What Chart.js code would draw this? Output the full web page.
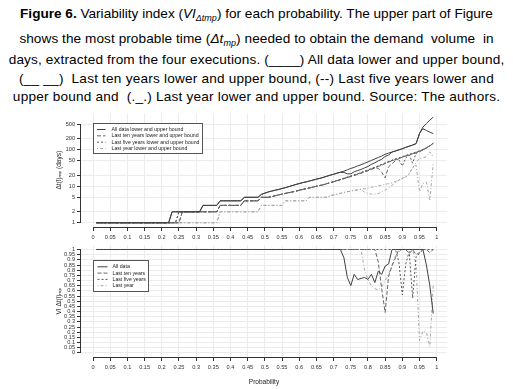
<!DOCTYPE html>
<html>
<head>
<meta charset="utf-8">
<script src="https://cdn.jsdelivr.net/npm/chart.js@4.4.1/dist/chart.umd.min.js"></script>
<style>
body { margin:0; background:#fff; width:513px; height:389px; overflow:hidden; position:relative; font-family:"Liberation Sans", Arial, sans-serif; }
.cap { position:absolute; left:0; width:513px; font-size:13.6px; line-height:15px; white-space:pre; color:#000; text-align:center; }
.cap sub { font-size:9px; line-height:0; vertical-align:-3px; }
canvas { position:absolute; left:0; }
</style>
</head>
<body>
<div class="cap" style="top:6px"><b>Figure 6.</b> Variability index (<i>VI<sub>Δtmp</sub></i>) for each probability. The upper part of Figure</div>
<div class="cap" style="top:31px;letter-spacing:0.07px">shows the most probable time (<i>Δt<sub>mp</sub></i>) needed to obtain the demand  volume  in</div>
<div class="cap" style="top:52px;letter-spacing:0.15px">days, extracted from the four executions. (____) All data lower and upper bound,</div>
<div class="cap" style="top:71px;letter-spacing:0.21px">(__ __)  Last ten years lower and upper bound, (--) Last five years lower and</div>
<div class="cap" style="top:89px;letter-spacing:0.21px">upper bound and  (._.) Last year lower and upper bound. Source: The authors.</div>
<canvas id="topChart" width="513" height="142" style="top:108px"></canvas>
<canvas id="botChart" width="513" height="149" style="top:240px"></canvas>
<script>
// probabilities 0.01 .. 0.99
var probs = [0.01,0.02,0.03,0.04,0.05,0.06,0.07,0.08,0.09,0.1,
0.11,0.12,0.13,0.14,0.15,0.16,0.17,0.18,0.19,0.2,
0.21,0.22,0.23,0.24,0.25,0.26,0.27,0.28,0.29,0.3,
0.31,0.32,0.33,0.34,0.35,0.36,0.37,0.38,0.39,0.4,
0.41,0.42,0.43,0.44,0.45,0.46,0.47,0.48,0.49,0.5,
0.51,0.52,0.53,0.54,0.55,0.56,0.57,0.58,0.59,0.6,
0.61,0.62,0.63,0.64,0.65,0.66,0.67,0.68,0.69,0.7,
0.71,0.72,0.73,0.74,0.75,0.76,0.77,0.78,0.79,0.8,
0.81,0.82,0.83,0.84,0.85,0.86,0.87,0.88,0.89,0.9,
0.91,0.92,0.93,0.94,0.95,0.96,0.97,0.98,0.99];

// most probable time (days), upper part
var allHi = [1,1,1,1,1,1,1,1,1,1, 1,1,1,1,1,1,1,1,1,1, 1,1,2,2,2,2,2,2,2,2, 2,3,3,3,3,3,4,4,4,4,
4,4,4,5,5,5,5,5,6,6.5, 7,7.4,7.8,8.2,8.7,9.2,9.8,10.5,11.2,11.9, 12.6,13.2,14,14.8,15.7,16.5,17.6,18.8,20.2,21.4,
22.9,24.3,26,28.2,30.9,33,36.3,38.9,42.7,46.8, 51.3,56.2,61.7,67.6,75.9,81.3,87,93,100,107, 117,126,135,148,280,420,530,650,790];
var allLo = [1,1,1,1,1,1,1,1,1,1, 1,1,1,1,1,1,1,1,1,1, 1,1,2,2,2,2,2,2,2,2, 2,3,3,3,3,3,4,4,4,4,
4,4,4,5,5,5,5,5,6,6.5, 7,7.4,7.8,8.2,8.7,9.2,9.8,10.5,11.2,11.9, 12.6,13.2,14,14.8,15.7,16.5,17.6,18.8,20.2,21.4,
22.9,24.3,24,22,22,25,27,29,32,35, 40,44,50,55,66,72,87,93,100,107, 117,126,135,148,280,380,340,305,278];
var tenHi = [1,1,1,1,1,1,1,1,1,1, 1,1,1,1,1,1,1,1,1,1, 1,1,1,1,1,2,2,2,2,2, 2,2,2,2,2,2,3,3,3,3,
3,3,3,4,4,4,4,4,5,5, 5,5.2,5.5,5.8,6.1,6.4,6.7,7,7.4,7.8, 8.2,8.6,9,9.5,10,10.5,11,11.8,12.5,13.3,
14.2,15.2,16.3,17.4,18.6,20,21.5,23,25,27, 29.5,32,35,38,42,46,50,54,58,63, 68,73,79,85,92,100,112,130,155];
var tenLo = [1,1,1,1,1,1,1,1,1,1, 1,1,1,1,1,1,1,1,1,1, 1,1,1,1,1,2,2,2,2,2, 2,2,2,2,2,2,3,3,3,3,
3,3,3,4,4,4,4,4,5,5, 5,5.2,5.5,5.8,6.1,6.4,6.7,7,7.4,7.8, 8.2,8.6,9,9.5,10,10.5,11,11.8,12.5,13.3,
14.2,15.2,16.3,17.4,18.6,20,21.5,23,25,27, 29.5,32,31,24,17,34,42,50,58,63, 68,70,79,81,89,100,112,126,155];
var fiveHi = [1,1,1,1,1,1,1,1,1,1, 1,1,1,1,1,1,1,1,1,1, 1,1,1,1,2,2,2,2,2,2, 2,2,2,2,2,2,3,3,3,3,
3,3,3,4,4,4,4,4,5,5, 5,5.2,5.5,5.8,6.1,6.4,6.7,7,7.4,7.8, 8.2,8.6,9,9.5,10,10.5,11,11.8,12.5,13.3,
14.5,15.5,16.6,17.8,19,20.5,22,23.8,25.8,28, 30.5,33,36,39.5,43.5,47.5,51.5,56,60,65, 70,75,81,87,94,102,114,128,150];
var fiveLo = [1,1,1,1,1,1,1,1,1,1, 1,1,1,1,1,1,1,1,1,1, 1,1,1,1,2,2,2,2,2,2, 2,2,2,2,2,2,3,3,3,3,
3,3,3,4,4,4,4,4,5,5, 5,5.2,5.5,5.8,6.1,6.4,6.7,7,7.4,7.8, 8.2,8.6,9,9.5,10,10.5,11,11.8,12.5,13.3,
14.5,15.5,16.6,17.8,19,20.5,22,23.8,25.8,28, 30.5,33,36,39.5,43.5,47.5,51.5,56,53,36, 60,73.5,43,81,90,102,114,128,150];
var lastHi = [1,1,1,1,1,1,1,1,1,1, 1,1,1,1,1,1,1,1,1,1, 1,1,1,1,1,1,1,1,1,1, 1,1,1,1,1,1,2,2,2,2,
2,2,2,2,2,2,2,2,3,3, 3,3,3,3,3,4,4,4,4,4, 4,4,5,5,5,5,5,5,5.5,5.8,
6.1,6.4,6.8,7.1,7.4,7.7,8,8.3,8.6,9, 9.4,9.8,10.3,10.8,11.3,11.8,12.5,13.5,15,16.5, 18,22,32,45,58,60,65,88,64];
var lastLo = [1,1,1,1,1,1,1,1,1,1, 1,1,1,1,1,1,1,1,1,1, 1,1,1,1,1,1,1,1,1,1, 1,1,1,1,1,1,2,2,2,2,
2,2,2,2,2,2,2,2,3,3, 3,3,3,3,3,4,4,4,4,4, 4,4,5,5,5,5,5,5,5.5,5.8,
6.1,6.4,6.8,7.1,7.4,7.7,8,8.3,6.9,6.4, 6.1,6.1,6.3,6.9,7.9,9,10.6,12.7,14.7,16.5, 18,22,32,38,7.1,12,13,4.3,42];

// variability index, lower part
var viAll = [1,1,1,1,1,1,1,1,1,1, 1,1,1,1,1,1,1,1,1,1, 1,1,1,1,1,1,1,1,1,1, 1,1,1,1,1,1,1,1,1,1,
1,1,1,1,1,1,1,1,1,1, 1,1,1,1,1,1,1,1,1,1, 1,1,1,1,1,1,1,1,1,1,
1,1,0.92,0.73,0.65,0.76,0.71,0.72,0.73,0.71, 0.76,0.68,0.79,0.76,0.84,0.86,1,1,1,1, 1,1,1,1,1,1,0.85,0.65,0.38];
var viTen = [1,1,1,1,1,1,1,1,1,1, 1,1,1,1,1,1,1,1,1,1, 1,1,1,1,1,1,1,1,1,1, 1,1,1,1,1,1,1,1,1,1,
1,1,1,1,1,1,1,1,1,1, 1,1,1,1,1,1,1,1,1,1, 1,1,1,1,1,1,1,1,1,1,
1,1,1,1,1,1,1,1,1,1, 1,1,0.88,0.62,0.39,0.74,0.84,0.92,1,1, 1,0.96,1,0.95,0.97,1,1,0.97,1];
var viFive = [1,1,1,1,1,1,1,1,1,1, 1,1,1,1,1,1,1,1,1,1, 1,1,1,1,1,1,1,1,1,1, 1,1,1,1,1,1,1,1,1,1,
1,1,1,1,1,1,1,1,1,1, 1,1,1,1,1,1,1,1,1,1, 1,1,1,1,1,1,1,1,1,1,
1,1,1,1,1,1,1,1,1,1, 1,1,1,1,1,1,1,1,0.88,0.56, 0.86,0.98,0.53,0.93,0.96,1,1,1,1];
var viLast = [1,1,1,1,1,1,1,1,1,1, 1,1,1,1,1,1,1,1,1,1, 1,1,1,1,1,1,1,1,1,1, 1,1,1,1,1,1,1,1,1,1,
1,1,1,1,1,1,1,1,1,1, 1,1,1,1,1,1,1,1,1,1, 1,1,1,1,1,1,1,1,1,1,
1,1,1,1,1,1,1,1,0.8,0.71, 0.65,0.62,0.61,0.64,0.7,0.76,0.85,0.94,0.98,1, 1,1,1,0.85,0.12,0.21,0.2,0.06,0.66];

var xTicks = [0,0.05,0.1,0.15,0.2,0.25,0.3,0.35,0.4,0.45,0.5,0.55,0.6,0.65,0.7,0.75,0.8,0.85,0.9,0.95,1];
var yTicksTop = [1,2,5,10,20,50,100,200,500];
var yTicksBot = [0,0.05,0.1,0.15,0.2,0.25,0.3,0.35,0.4,0.45,0.5,0.55,0.6,0.65,0.7,0.75,0.8,0.85,0.9,0.95,1];
var legendTop = ['All data lower and upper bound','Last ten years lower and upper bound','Last five years lower and upper bound','Last year lower and upper bound'];
var legendBot = ['All data','Last ten years','Last five years','Last year'];

var fam = '"Liberation Sans", "DejaVu Sans", sans-serif';
var stAll = {c:'#404040', d:[]};
var stTen = {c:'#666666', d:[4,2]};
var stFive = {c:'#555555', d:[2,2]};
var stLast = {c:'#a6a6a6', d:[1,2,3,2]};

function ds(label, vals, st) {
  return {
    label: label,
    data: probs.map(function (p, i) { return {x: p, y: vals[i]}; }),
    borderColor: st.c, borderDash: st.d, borderWidth: 1,
    pointRadius: 0, tension: 0, fill: false
  };
}

// R style axis lines: only from first to last tick
var rAxes = {
  id: 'rAxes',
  afterDraw: function (chart) {
    var ctx = chart.ctx, ca = chart.chartArea;
    var sx = chart.scales.x, sy = chart.scales.y;
    var xs = sx.ticks.map(function (t) { return sx.getPixelForValue(t.value); });
    var ys = sy.ticks.map(function (t) { return sy.getPixelForValue(t.value); });
    ctx.save();
    ctx.strokeStyle = '#333'; ctx.lineWidth = 1; ctx.setLineDash([]);
    ctx.beginPath();
    ctx.moveTo(Math.min.apply(null, xs), Math.round(ca.bottom) + 0.5);
    ctx.lineTo(Math.max.apply(null, xs), Math.round(ca.bottom) + 0.5);
    ctx.moveTo(Math.round(ca.left) - 0.5, Math.min.apply(null, ys));
    ctx.lineTo(Math.round(ca.left) - 0.5, Math.max.apply(null, ys));
    ctx.stroke();
    ctx.restore();
  }
};

var rLegend = {
  id: 'rLegend',
  afterDraw: function (chart, args, o) {
    var ctx = chart.ctx, ca = chart.chartArea;
    var x0 = Math.round(ca.left + o.dx) + 0.5, y0 = Math.round(ca.top + o.dy) + 0.5;
    ctx.save();
    ctx.fillStyle = '#fff';
    ctx.fillRect(x0, y0, o.w, o.h);
    ctx.strokeStyle = '#555'; ctx.lineWidth = 1; ctx.setLineDash([]);
    ctx.strokeRect(x0, y0, o.w, o.h);
    ctx.font = o.size + 'px ' + fam;
    ctx.textBaseline = 'middle';
    o.items.forEach(function (txt, k) {
      var d = chart.data.datasets[o.ds[k]];
      var yy = y0 + o.first + k * o.row;
      ctx.strokeStyle = d.borderColor;
      ctx.setLineDash(d.borderDash || []);
      ctx.beginPath(); ctx.moveTo(x0 + o.l1, yy); ctx.lineTo(x0 + o.l2, yy); ctx.stroke();
      ctx.fillStyle = '#222';
      ctx.fillText(txt, x0 + o.tx, yy);
    });
    ctx.restore();
  }
};

function xScale(h, title) {
  return {
    type: 'linear', min: -0.035, max: 1.03,
    afterBuildTicks: function (a) { a.ticks = xTicks.map(function (v) { return {value: v}; }); },
    afterFit: function (s) { s.height = h; },
    ticks: { autoSkip: false, maxRotation: 0, padding: 3, color: '#333', font: {size: 5.6, family: fam},
      callback: function (v) { return String(v); } },
    grid: { color: '#ececec', tickColor: '#333', tickLength: 4 },
    border: { display: false },
    title: title
  };
}

Chart.defaults.animation = false;

new Chart(document.getElementById('topChart'), {
  type: 'line',
  data: { datasets: [
    ds('All data upper', allHi, stAll), ds('All data lower', allLo, stAll),
    ds('Last ten years upper', tenHi, stTen), ds('Last ten years lower', tenLo, stTen),
    ds('Last five years upper', fiveHi, stFive), ds('Last five years lower', fiveLo, stFive),
    ds('Last year upper', lastHi, stLast), ds('Last year lower', lastLo, stLast)
  ]},
  options: {
    responsive: false, devicePixelRatio: 1,
    layout: { padding: {top: 5, right: 66, bottom: 0, left: 0} },
    plugins: {
      legend: {display: false}, tooltip: {enabled: false},
      rLegend: { dx: 12, dy: 10, w: 109, h: 30, first: 6, row: 6.33, l1: 3.5, l2: 12, tx: 18, size: 5.2,
        items: legendTop, ds: [0, 2, 4, 6] }
    },
    scales: {
      x: xScale(23, {display: false}),
      y: {
        type: 'logarithmic', min: 0.766, max: 1000,
        afterBuildTicks: function (a) { a.ticks = yTicksTop.map(function (v) { return {value: v}; }); },
        afterFit: function (s) { s.width = 81; },
        ticks: { autoSkip: false, padding: 2, color: '#333', font: {size: 5.6, family: fam},
          callback: function (v) { return String(v); } },
        grid: { color: '#ececec', tickColor: '#333', tickLength: 4 },
        border: { display: false },
        title: { display: true, text: 'Δt(l)ₘₚ (days)', color: '#222', font: {size: 6.5, family: fam}, padding: {top: 55, bottom: 0} }
      }
    }
  },
  plugins: [rAxes, rLegend]
});

new Chart(document.getElementById('botChart'), {
  type: 'line',
  data: { datasets: [
    ds('All data', viAll, stAll), ds('Last ten years', viTen, stTen),
    ds('Last five years', viFive, stFive), ds('Last year', viLast, stLast)
  ]},
  options: {
    responsive: false, devicePixelRatio: 1,
    layout: { padding: {top: 2, right: 66, bottom: 0, left: 0} },
    plugins: {
      legend: {display: false}, tooltip: {enabled: false},
      rLegend: { dx: 12, dy: 15, w: 55, h: 31, first: 6.3, row: 6.3, l1: 4, l2: 14, tx: 19, size: 5.2,
        items: legendBot, ds: [0, 1, 2, 3] }
    },
    scales: {
      x: xScale(32, { display: true, text: 'Probability', color: '#222', font: {size: 6.5, family: fam}, padding: {top: 0, bottom: 3} }),
      y: {
        type: 'linear', min: -0.04, max: 1.04,
        afterBuildTicks: function (a) { a.ticks = yTicksBot.map(function (v) { return {value: v}; }); },
        afterFit: function (s) { s.width = 81; },
        ticks: { autoSkip: false, padding: 2, color: '#333', font: {size: 5.6, family: fam},
          callback: function (v) { return String(v); } },
        grid: { color: '#ececec', tickColor: '#333', tickLength: 4 },
        border: { display: false },
        title: { display: true, text: 'VI Δt(l)ₘₚ', color: '#222', font: {size: 6.5, family: fam}, padding: {top: 55, bottom: 0} }
      }
    }
  },
  plugins: [rAxes, rLegend]
});
</script>
</body>
</html>
